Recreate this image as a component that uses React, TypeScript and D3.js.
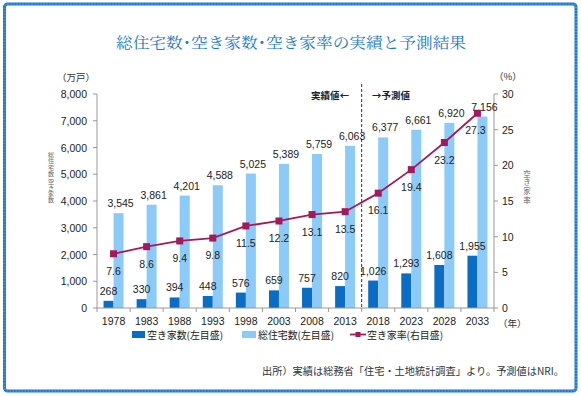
import React from "react";
import * as d3 from "d3";

const years = ["1978", "1983", "1988", "1993", "1998", "2003", "2008", "2013", "2018", "2023", "2028", "2033"];
const vacantHouses = [268, 330, 394, 448, 576, 659, 757, 820, 1026, 1293, 1608, 1955];
const totalHouses = [3545, 3861, 4201, 4588, 5025, 5389, 5759, 6063, 6377, 6661, 6920, 7156];
const vacancyRate = [7.6, 8.6, 9.4, 9.8, 11.5, 12.2, 13.1, 13.5, 16.1, 19.4, 23.2, 27.3];
const leftTicks = [0, 1000, 2000, 3000, 4000, 5000, 6000, 7000, 8000];
const rightTicks = [0, 5, 10, 15, 20, 25, 30];

const W = 581, H = 396;
const m = { left: 97, right: 494, top: 94, bottom: 308 };
const DARK = "#0a6cc4";
const LIGHT = "#8ccaf7";
const LINE = "#a3195b";
const NUM = "'Liberation Sans', Arial, sans-serif";
const JP = "'Noto Sans CJK JP', sans-serif";

export default function App() {
  const x = d3.scaleBand<string>().domain(years).range([m.left, m.right]).paddingInner(0).paddingOuter(0);
  const yL = d3.scaleLinear().domain([0, 8000]).range([m.bottom, m.top]);
  const yR = d3.scaleLinear().domain([0, 30]).range([m.bottom, m.top]);
  const bw = 10;
  const cx = (y: string) => (x(y) as number) + x.bandwidth() / 2;
  const line = d3.line<number>().x((_, i) => cx(years[i])).y((d) => yR(d));
  const splitX = x("2018") as number;

  return (
    <div style={{ position: "absolute", left: 0, top: 0 }}>
      <svg width={W} height={H} style={{ display: "block", background: "#fff" }}>
        {/* border */}
        <rect x={4.5} y={4} width={571.5} height={387} rx={3} fill="none" stroke="#1f7ad0" strokeWidth={3} />
        <rect x={4.5} y={4} width={571.5} height={387} rx={3} fill="none" stroke="#5aa3e6" strokeWidth={1.5} strokeDasharray="1 2" />
        {/* title */}
        <text x={291} y={48} textAnchor="middle" fontFamily="'Noto Serif CJK JP', 'Noto Sans CJK JP', serif" fontSize={15} fill="#2277c8" textLength={350} lengthAdjust="spacingAndGlyphs">
          総住宅数･空き家数･空き家率の実績と予測結果
        </text>
        {/* unit labels */}
        <text x={57} y={81} fontFamily={JP} fontSize={9.5} fill="#333">（万戸）</text>
        <text x={494} y={80} fontFamily={JP} fontSize={9.5} fill="#333">（%）</text>
        <text x={498} y={327} fontFamily={JP} fontSize={9.5} fill="#333">（年）</text>
        {/* axis titles (vertical) */}
        <text x={51} y={152} fontFamily={JP} fontSize={6} fill="#666" style={{ writingMode: "vertical-rl" }} textLength={51} lengthAdjust="spacing">総住宅数 空き家数</text>
        <text x={527} y={170} fontFamily={JP} fontSize={7.5} fill="#666" style={{ writingMode: "vertical-rl" }} textLength={34} lengthAdjust="spacing">空き家率</text>
        {/* left axis */}
        <line x1={m.left} x2={m.left} y1={m.top} y2={m.bottom} stroke="#999" />
        {leftTicks.map((t) => (
          <g key={"l" + t}>
            <line x1={m.left - 4} x2={m.left} y1={yL(t)} y2={yL(t)} stroke="#999" />
            <text x={m.left - 10} y={yL(t) + 4} textAnchor="end" fontFamily={NUM} fontSize={10.5} fill="#222">{d3.format(",")(t)}</text>
          </g>
        ))}
        {/* right axis */}
        <line x1={m.right} x2={m.right} y1={m.top} y2={m.bottom} stroke="#999" />
        {rightTicks.map((t) => (
          <g key={"r" + t}>
            <line x1={m.right} x2={m.right + 4} y1={yR(t)} y2={yR(t)} stroke="#999" />
            <text x={m.right + 8} y={yR(t) + 4} textAnchor="start" fontFamily={NUM} fontSize={10.5} fill="#222">{t}</text>
          </g>
        ))}
        {/* bars */}
        {years.map((y, i) => (
          <g key={"b" + y}>
            <rect x={cx(y) - bw} y={yL(vacantHouses[i])} width={bw} height={m.bottom - yL(vacantHouses[i])} fill={DARK} />
            <rect x={cx(y)} y={yL(totalHouses[i])} width={bw} height={m.bottom - yL(totalHouses[i])} fill={LIGHT} />
          </g>
        ))}
        {/* x axis */}
        <line x1={m.left} x2={m.right} y1={m.bottom} y2={m.bottom} stroke="#999" />
        {d3.range(years.length + 1).map((i) => {
          const xx = m.left + i * x.bandwidth();
          return <line key={"xt" + i} x1={xx} x2={xx} y1={m.bottom} y2={m.bottom + 4} stroke="#999" />;
        })}
        {years.map((y) => (
          <text key={"xl" + y} x={cx(y)} y={m.bottom + 17} textAnchor="middle" fontFamily={NUM} fontSize={10.5} fill="#222">{y}</text>
        ))}
        {/* split line */}
        <line x1={splitX} x2={splitX} y1={84} y2={m.bottom} stroke="#333" strokeDasharray="3 2" />
        <text x={349} y={99} textAnchor="end" fontFamily={JP} fontSize={9.5} fontWeight="bold" fill="#222">実績値←</text>
        <text x={372} y={99} textAnchor="start" fontFamily={JP} fontSize={9.5} fontWeight="bold" fill="#222">→予測値</text>
        {/* bar labels */}
        {years.map((y, i) => (
          <g key={"bl" + y}>
            <text x={cx(y) - bw / 2} y={yL(vacantHouses[i]) - 6} textAnchor="middle" fontFamily={NUM} fontSize={10.5} fill="#222">{d3.format(",")(vacantHouses[i])}</text>
            <text x={cx(y) + bw / 2 + 2} y={yL(totalHouses[i]) - 6} textAnchor="middle" fontFamily={NUM} fontSize={10.5} fill="#222">{d3.format(",")(totalHouses[i])}</text>
          </g>
        ))}
        {/* rate line */}
        <path d={line(vacancyRate) as string} fill="none" stroke={LINE} strokeWidth={1.8} />
        {years.map((y, i) => (
          <rect key={"m" + y} x={cx(y) - 3.5} y={yR(vacancyRate[i]) - 3.5} width={7} height={7} fill={LINE} />
        ))}
        {years.map((y, i) => (
          <text key={"rl" + y} x={cx(y) - (i === years.length - 1 ? 2 : 0)} y={yR(vacancyRate[i]) + 21} textAnchor="middle" fontFamily={NUM} fontSize={10.5} fill="#222">{vacancyRate[i].toFixed(1)}</text>
        ))}
        {/* legend */}
        <rect x={132} y={331} width={13} height={7} fill={DARK} />
        <text x={147} y={338.5} fontFamily={JP} fontSize={10} fill="#222" textLength={76} lengthAdjust="spacingAndGlyphs">空き家数(左目盛)</text>
        <rect x={242} y={331} width={14} height={7} fill={LIGHT} />
        <text x={258} y={338.5} fontFamily={JP} fontSize={10} fill="#222" textLength={76} lengthAdjust="spacingAndGlyphs">総住宅数(左目盛)</text>
        <line x1={350} x2={366} y1={334.5} y2={334.5} stroke={LINE} strokeWidth={1.8} />
        <rect x={355.5} y={332} width={5} height={5} fill={LINE} />
        <text x={367} y={338.5} fontFamily={JP} fontSize={10} fill="#222" textLength={76} lengthAdjust="spacingAndGlyphs">空き家率(右目盛)</text>
        {/* source */}
        <text x={564} y={375} textAnchor="end" fontFamily={JP} fontSize={10} fill="#333" textLength={302} lengthAdjust="spacingAndGlyphs">出所）実績は総務省「住宅・土地統計調査」より。予測値はNRI。</text>
      </svg>
    </div>
  );
}
